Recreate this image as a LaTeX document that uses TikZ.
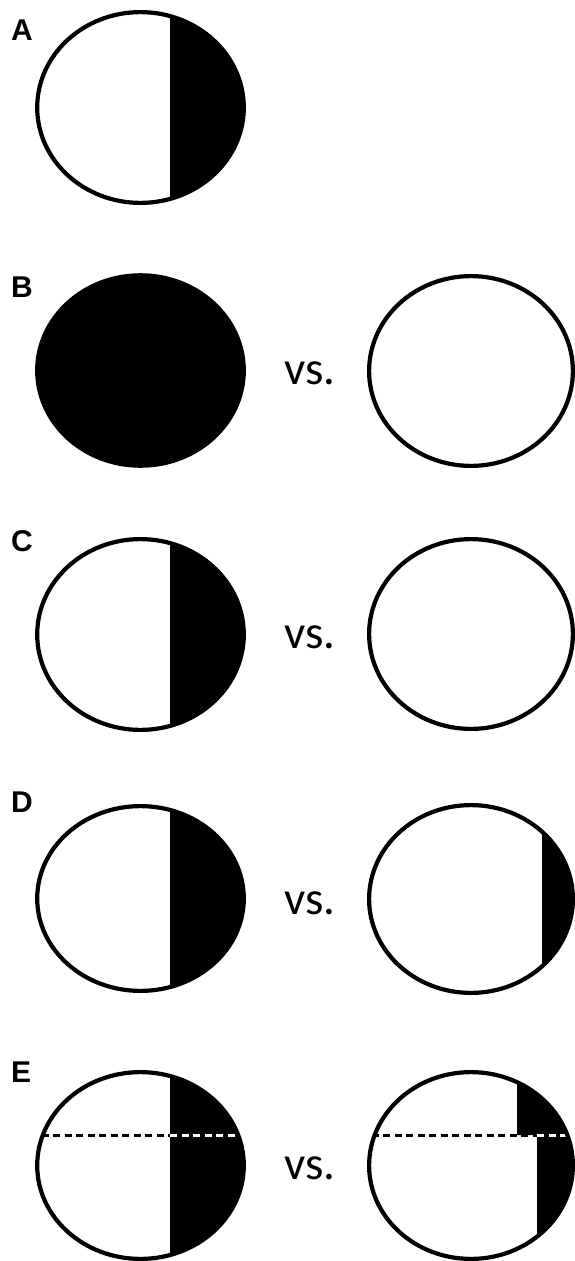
\documentclass[tikz,border=0pt]{standalone}
\usepackage{fontspec}
\setmainfont{Liberation Sans}
\newfontfamily\vsfont{Carlito}
\begin{document}
\begin{tikzpicture}[x=1pt,y=-1pt,
  outline/.style={draw=black,line width=4.2pt},
  lbl/.style={anchor=base west,inner sep=0pt,font=\fontsize{30}{30}\selectfont\bfseries},
  vstext/.style={anchor=base west,inner sep=0pt,font=\vsfont\fontsize{47}{47}\selectfont},
  dashline/.style={line width=3pt,dash pattern=on 7pt off 4.5pt}]
\useasboundingbox (0,0) rectangle (575,1261);
% ---------- A ----------
\node[lbl] (la) at (11,40) {A};
\fill[white] (140.5,107.5) ellipse [x radius=103.3,y radius=95.4];
\begin{scope}
  \clip (140.5,107.5) ellipse [x radius=103.3,y radius=95.4];
  \fill[black] (170,0) rectangle (260,220);
\end{scope}
\draw[outline] (140.5,107.5) ellipse [x radius=103.3,y radius=95.4];
% ---------- B ----------
\node[lbl] (lb) at (11,297) {B};
\draw[outline,fill=black] (140.5,370.5) ellipse [x radius=103.3,y radius=95.2];
\node[vstext] (vsb) at (284,384) {vs.};
\draw[outline] (471,371) ellipse [x radius=101.9,y radius=94.9];
% ---------- C ----------
\node[lbl] (lc) at (11,551.5) {C};
\begin{scope}
  \clip (140.5,634.5) ellipse [x radius=103.3,y radius=95.4];
  \fill[black] (170,520) rectangle (260,740);
\end{scope}
\draw[outline] (140.5,634.5) ellipse [x radius=103.3,y radius=95.4];
\node[vstext] (vsc) at (284,648) {vs.};
\draw[outline] (471,634) ellipse [x radius=101.9,y radius=94.9];
% ---------- D ----------
\node[lbl] (ld) at (11,812) {D};
\begin{scope}
  \clip (140.5,898.5) ellipse [x radius=103.3,y radius=92.4];
  \fill[black] (170,790) rectangle (260,1010);
\end{scope}
\draw[outline] (140.5,898.5) ellipse [x radius=103.3,y radius=92.4];
\node[vstext] (vsd) at (284,914) {vs.};
\begin{scope}
  \clip (471,899) ellipse [x radius=101.9,y radius=93.9];
  \fill[black] (542,790) rectangle (580,1010);
\end{scope}
\draw[outline] (471,899) ellipse [x radius=101.9,y radius=93.9];
% ---------- E ----------
\node[lbl] (le) at (11,1082) {E};
\begin{scope}
  \clip (140.5,1165.5) ellipse [x radius=103.3,y radius=93.4];
  \fill[black] (170,1060) rectangle (260,1261);
  \draw[dashline,black] (30,1135) -- (170,1135);
  \draw[dashline,white] (170,1135) -- (260,1135);
\end{scope}
\draw[outline] (140.5,1165.5) ellipse [x radius=103.3,y radius=93.4];
\node[vstext] (vse) at (284,1179) {vs.};
\begin{scope}
  \clip (471,1165.5) ellipse [x radius=101.9,y radius=93.4];
  \fill[black] (517,1060) -- (517,1135) -- (537,1135) -- (537,1270) -- (580,1270) -- (580,1060) -- cycle;
  \draw[dashline,black] (360,1135) -- (537,1135);
  \draw[dashline,white] (537,1135) -- (580,1135);
\end{scope}
\draw[outline] (471,1165.5) ellipse [x radius=101.9,y radius=93.4];
\end{tikzpicture}
\end{document}
